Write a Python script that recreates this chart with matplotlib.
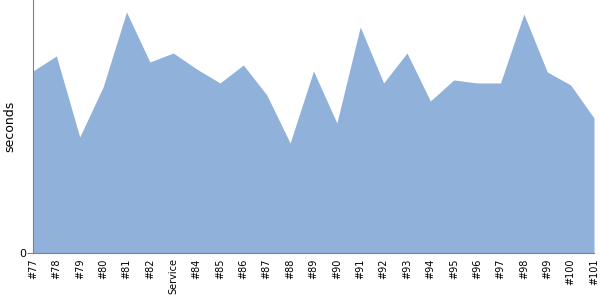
import numpy as np
import matplotlib
matplotlib.use("Agg")
import matplotlib.pyplot as plt

# builds and their durations (seconds)
labels = ["#77", "#78", "#79", "#80", "#81", "#82", "Service", "#84", "#85",
          "#86", "#87", "#88", "#89", "#90", "#91", "#92", "#93", "#94",
          "#95", "#96", "#97", "#98", "#99", "#100", "#101"]
durations = [182, 197, 116, 166, 241, 191, 200, 184, 170,
             188, 158, 110, 182, 130, 226, 170, 200, 152,
             173, 170, 170, 239, 181, 168, 135]

x = np.arange(len(labels))

fig = plt.figure(figsize=(6, 3), dpi=100)
ax = fig.add_axes([0.055, 0.157, 0.935, 0.843])

ax.fill_between(x, 0, durations, color="#8fb1da", linewidth=0)

ax.set_xlim(0, len(labels) - 1)
ax.set_ylim(0, 253)
ax.set_xticks(x)
ax.set_xticklabels(labels, rotation=90, fontsize=7)
ax.tick_params(axis="x", length=0, pad=4)
ax.set_yticks([0])
ax.set_yticklabels(["0"], fontsize=8)
ax.tick_params(axis="y", length=4, pad=1, color="#808080")
ax.set_ylabel("seconds", fontsize=9)
ax.yaxis.set_label_coords(-0.029, 0.5)

for s in ["top", "right"]:
    ax.spines[s].set_visible(False)
for s in ["left", "bottom"]:
    ax.spines[s].set_color("#808080")

fig.savefig("out.png", dpi=100)
